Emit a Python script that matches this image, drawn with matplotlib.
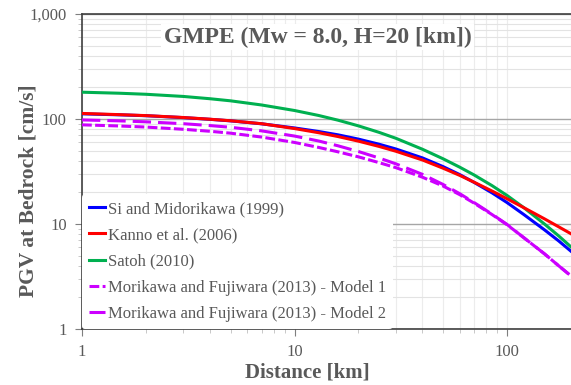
import matplotlib.pyplot as plt
from matplotlib.ticker import FuncFormatter, LogLocator, NullFormatter

# distance [km]
distance = [1, 1.5, 2, 3, 4, 5, 7, 10, 13, 16, 20, 25, 30, 40, 50, 60, 70, 85,
            100, 120, 150, 175, 200]

# PGV at bedrock [cm/s]
si_midorikawa = [112, 109.6, 107.5, 103.1, 99.3, 96.0, 90.0, 82.2, 76.0, 70.7,
                 64.3, 57.5, 51.8, 42.6, 35.2, 29.5, 24.9, 19.8, 16.0, 12.3,
                 8.8, 6.9, 5.5]
kanno = [113, 110, 107.7, 103.3, 99.5, 96.2, 90.2, 81.1, 74.0, 68.1, 61.5,
         54.8, 49.3, 40.7, 34.0, 29.0, 25.0, 20.6, 17.4, 14.3, 11.2, 9.4, 8.07]
satoh = [180, 176, 172, 164, 156, 149, 136, 120.5, 108, 97.5, 86, 74.6, 65.5,
         51.5, 41.8, 34.7, 29.3, 23.2, 18.7, 14.3, 10.0, 7.7, 6.05]
morikawa_m1 = [88, 85.8, 83.8, 79.8, 76.4, 73.3, 67.3, 59.8, 53.6, 48.7, 43.6,
               38.4, 34.4, 27.9, 23.0, 19.0, 15.8, 12.3, 9.85, 7.4, 5.2, 4.0,
               3.2]
morikawa_m2 = [98, 96, 94, 90.2, 86.6, 83.4, 77.1, 68.8, 61.7, 55.6, 49.0, 42.5,
               37.4, 29.7, 23.8, 19.4, 16.0, 12.4, 9.9, 7.4, 5.2, 4.0, 3.2]

labels = [
    "Si and Midorikawa (1999)",
    "Kanno et al. (2006)",
    "Satoh (2010)",
    "Morikawa and Fujiwara (2013) - Model 1",
    "Morikawa and Fujiwara (2013) - Model 2",
]

plt.rcParams["font.family"] = ["Liberation Serif", "DejaVu Serif"]
GRAY = "#595959"

fig = plt.figure(figsize=(5.71, 3.85), dpi=100)
ax = fig.add_axes([0.1436, 0.1455, 0.8564, 0.8181])

lw = 2.2
ax.plot(distance, si_midorikawa, color="#0000ff", lw=lw, label=labels[0], zorder=3)
ax.plot(distance, kanno, color="#ff0000", lw=lw, label=labels[1], zorder=4)
ax.plot(distance, satoh, color="#00b050", lw=lw, label=labels[2], zorder=3)
ax.plot(distance, morikawa_m1, color="#cc00ff", lw=lw, ls=(0, (3.2, 1.1)),
        label=labels[3], zorder=3)
ax.plot(distance, morikawa_m2, color="#cc00ff", lw=lw, ls=(0, (6, 2.3)),
        label=labels[4], zorder=3)

ax.set_xscale("log")
ax.set_yscale("log")
ax.set_xlim(1, 200)
ax.set_ylim(1, 1000)

ax.xaxis.set_major_locator(LogLocator(base=10))
ax.yaxis.set_major_locator(LogLocator(base=10))
ax.xaxis.set_minor_locator(LogLocator(base=10, subs=range(2, 10)))
ax.yaxis.set_minor_locator(LogLocator(base=10, subs=range(2, 10)))
ax.xaxis.set_minor_formatter(NullFormatter())
ax.yaxis.set_minor_formatter(NullFormatter())
fmt = FuncFormatter(lambda v, _: f"{v:,.0f}")
ax.xaxis.set_major_formatter(fmt)
ax.yaxis.set_major_formatter(fmt)

ax.grid(True, which="minor", axis="y", color="#e3e3e3", lw=0.8)
ax.grid(True, which="major", axis="y", color="#a6a6a6", lw=1.0)
ax.grid(True, which="both", axis="x", color="#ececec", lw=0.8)
ax.set_axisbelow(True)

ax.tick_params(which="major", length=5, color="#7f7f7f", labelsize=12,
               labelcolor=GRAY, pad=6)
ax.tick_params(which="minor", length=3, color="#bfbfbf")

for side in ("left", "bottom", "top"):
    ax.spines[side].set_color("#404040")
    ax.spines[side].set_linewidth(1.2)
ax.spines["right"].set_visible(False)

ax.set_xlabel("Distance [km]", fontsize=15, fontweight="bold", color=GRAY)
ax.set_ylabel("PGV at Bedrock [cm/s]", fontsize=15.5, fontweight="bold",
              color=GRAY)
ax.xaxis.set_label_coords(0.46, -0.108)
ax.yaxis.set_label_coords(-0.088, 0.44)

ax.text(0.482, 0.927, "GMPE (Mw = 8.0, H=20 [km])", transform=ax.transAxes,
        ha="center", va="center", fontsize=17, fontweight="bold", color=GRAY,
        bbox=dict(facecolor="white", edgecolor="none", pad=2), zorder=5)

leg = ax.legend(loc="lower left", bbox_to_anchor=(0, 0), frameon=True,
                fontsize=12, handlelength=1.0, handletextpad=0.15,
                labelspacing=0.62, borderaxespad=0.0, borderpad=0.4)
leg.get_frame().set_facecolor("white")
leg.get_frame().set_edgecolor("none")
leg.get_frame().set_alpha(1)
for t in leg.get_texts():
    t.set_color(GRAY)

fig.savefig("out.png", dpi=100)
